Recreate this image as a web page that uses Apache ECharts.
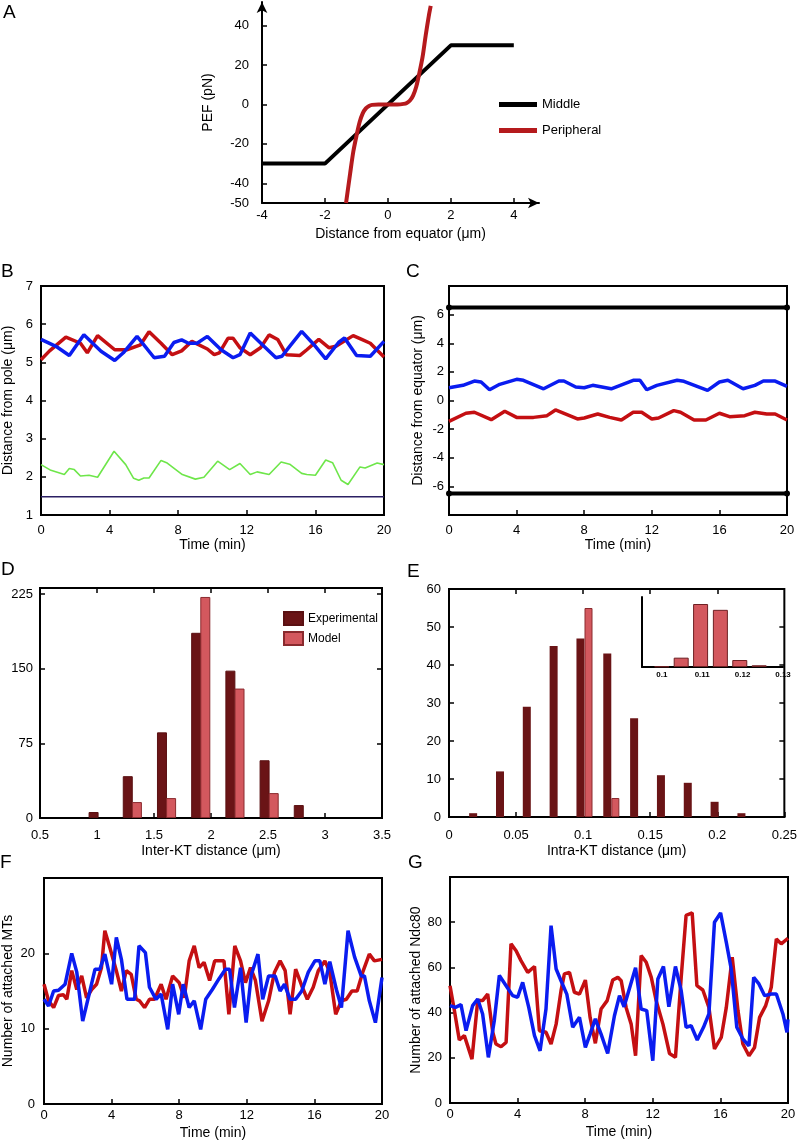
<!DOCTYPE html>
<html>
<head>
<meta charset="utf-8">
<script src="https://cdn.jsdelivr.net/npm/echarts@6/dist/echarts.min.js"></script>
<style>
  html, body { margin: 0; padding: 0; background: #fff; }
  #chart { width: 800px; height: 1143px; }
</style>
</head>
<body>
<div id="chart"></div>
<script>
// ---- data ----
// A: polar ejection force
const aMiddle = [[-4, -30], [-2, -30], [2, 30], [4, 30]];
const aPeripheral = [[-1.33, -50], [-1.2, -35], [-1.1, -24], [-1.0, -16], [-0.9, -9], [-0.8, -4.5], [-0.7, -2],
  [-0.6, -0.8], [-0.5, -0.2], [-0.3, 0], [0, 0], [0.3, 0], [0.5, 0.3], [0.6, 0.8], [0.7, 2], [0.8, 4.5],
  [0.9, 9], [1.0, 16], [1.1, 24], [1.2, 35], [1.3, 45], [1.36, 50]];
const aTicksX = [-4, -2, 0, 2, 4];
const aTicksY = [-50, -40, -20, 0, 20, 40];

// B: distance from pole
const bRed = [[0, 5.07], [0.5, 5.3], [1.45, 5.66], [2.3, 5.5], [2.7, 5.25], [3.3, 5.7], [4.3, 5.33], [5, 5.33],
  [5.8, 5.46], [6.3, 5.8], [7, 5.5], [7.65, 5.2], [8.2, 5.3], [8.8, 5.55], [9.7, 5.35], [10.1, 5.2], [10.4, 5.25],
  [10.9, 5.63], [11.2, 5.63], [11.6, 5.38], [12.2, 5.2], [12.8, 5.38], [13.3, 5.72], [13.8, 5.6], [14.3, 5.2],
  [15.1, 5.18], [15.5, 5.33], [16.2, 5.6], [16.8, 5.38], [17.2, 5.42], [18.2, 5.7], [18.7, 5.6], [19.2, 5.5], [20, 5.14]];
const bBlue = [[0, 5.6], [0.87, 5.42], [1.65, 5.18], [2.5, 5.72], [3.5, 5.29], [4.3, 5.05], [4.8, 5.25], [5.6, 5.68],
  [6.6, 5.12], [7.2, 5.16], [7.75, 5.52], [8.2, 5.59], [8.6, 5.5], [9.1, 5.5], [9.7, 5.68], [10.5, 5.33], [11.2, 5.12],
  [11.6, 5.2], [12.2, 5.77], [13, 5.42], [13.7, 5.12], [14.05, 5.16], [14.5, 5.42], [15.2, 5.81], [16, 5.42],
  [16.6, 5.09], [17.35, 5.52], [17.7, 5.64], [18.4, 5.18], [19.2, 5.16], [20, 5.55]];
const bGreen = [[0, 2.32], [0.58, 2.17], [1.36, 2.06], [1.65, 2.22], [1.94, 2.19], [2.3, 2.02], [2.8, 2.04], [3.3, 1.99],
  [4.26, 2.67], [4.94, 2.32], [5.4, 1.96], [5.7, 1.91], [6, 1.97], [6.3, 1.97], [7, 2.43], [7.36, 2.36], [8.24, 2.06],
  [9, 1.94], [9.5, 1.99], [10.3, 2.41], [11, 2.19], [11.6, 2.35], [12.2, 2.06], [12.6, 2.13], [13.3, 2.06], [14, 2.39],
  [14.5, 2.33], [15.2, 2.09], [15.5, 2.06], [16, 2.04], [16.6, 2.44], [17, 2.37], [17.5, 1.91], [17.9, 1.8],
  [18.6, 2.26], [18.9, 2.23], [19.6, 2.36], [20, 2.32]];
const bPole = [[0, 1.48], [20, 1.48]];
const timeTicks = [0, 4, 8, 12, 16, 20];
const bTicksY = [1, 2, 3, 4, 5, 6, 7];

// C: distance from equator
const cBlue = [[0, 0.89], [0.83, 1.06], [1.5, 1.36], [1.9, 1.29], [2.4, 0.75], [3, 1.13], [4, 1.48], [4.4, 1.41],
  [5.6, 0.82], [6.5, 1.36], [6.8, 1.36], [7.5, 0.94], [8, 0.89], [8.5, 1.06], [9.6, 0.82], [10.9, 1.41], [11.3, 1.41],
  [11.7, 0.75], [12.3, 1.06], [13.5, 1.41], [13.9, 1.34], [15.3, 0.71], [16, 1.29], [16.5, 1.41], [17.4, 0.82],
  [18.1, 1.06], [18.6, 1.36], [19.3, 1.36], [20, 0.99]];
const cRed = [[0, -1.46], [1, -0.89], [1.5, -0.82], [2.5, -1.34], [3.3, -0.75], [4, -1.18], [5, -1.18], [5.8, -1.06],
  [6.3, -0.66], [7.6, -1.29], [8, -1.22], [8.8, -0.94], [9.5, -1.18], [10.2, -1.36], [10.9, -0.82], [11.4, -0.82],
  [12, -1.29], [12.4, -1.22], [13.3, -0.71], [13.7, -0.82], [14.5, -1.36], [15.2, -1.36], [16, -0.89], [16.6, -1.13],
  [17.5, -1.06], [18.1, -0.82], [18.8, -0.94], [19.3, -0.94], [20, -1.36]];
const cPoleTop = [[0, 6.5], [20, 6.5]];
const cPoleBottom = [[0, -6.5], [20, -6.5]];
const cTicksY = [-6, -4, -2, 0, 2, 4, 6];

// D: inter-KT distance histogram
const dExpX = [0.97, 1.27, 1.57, 1.87, 2.17, 2.47, 2.77];
const dExp = [6, 42, 86, 186, 148, 58, 13];
const dModelX = [1.35, 1.65, 1.95, 2.25, 2.55];
const dModel = [16, 20, 222, 130, 25];
const dTicksX = [0.5, 1, 1.5, 2, 2.5, 3, 3.5];
const dTicksY = [0, 75, 150, 225];

// E: intra-KT distance histogram + inset
const eExpX = [0.018, 0.038, 0.058, 0.078, 0.098, 0.118, 0.138, 0.158, 0.178, 0.198, 0.218];
const eExp = [1, 12, 29, 45, 47, 43, 26, 11, 9, 4, 1];
const eModelX = [0.104, 0.124];
const eModel = [55, 5];
const eTicksX = [0, 0.05, 0.1, 0.15, 0.2, 0.25];
const eTicksY = [0, 10, 20, 30, 40, 50, 60];
const insetX = [0.1, 0.1048, 0.1096, 0.1145, 0.1193, 0.1241];
const insetY = [0.5, 8, 54, 49, 6, 1.5];
const insetTicksX = [0.1, 0.11, 0.12, 0.13];

// F: attached MTs
const fRed = [[0, 15.9], [0.27, 13.7], [0.57, 12.8], [0.86, 14.4], [1.15, 14.5], [1.35, 13.9], [1.64, 17.7], [1.94, 15.2],
  [2.23, 17.0], [2.52, 14.1], [2.82, 15.2], [3.11, 15.9], [3.4, 18.1], [3.6, 23.0], [3.89, 20.8], [4.28, 17.7],
  [4.58, 15.0], [4.87, 17.7], [5.16, 17.2], [5.46, 13.9], [5.65, 13.7], [5.95, 12.8], [6.24, 13.9], [6.54, 13.9],
  [6.93, 15.9], [7.22, 13.9], [7.61, 17.0], [8.0, 16.1], [8.3, 14.1], [8.59, 19.0], [8.89, 21.0], [9.18, 18.1],
  [9.47, 18.8], [9.8, 16.4], [10.1, 19.0], [10.65, 19.0], [10.94, 11.9], [11.29, 21.0], [11.63, 19.0], [11.92, 16.1],
  [12.22, 18.1], [12.51, 16.4], [12.9, 11.0], [13.29, 13.7], [13.64, 17.5], [13.97, 19.0], [14.27, 17.7],
  [14.56, 11.9], [14.89, 17.9], [15.25, 15.7], [15.58, 13.9], [15.93, 15.5], [16.23, 17.7], [16.62, 19.0],
  [16.91, 17.5], [17.26, 11.9], [17.6, 13.7], [17.89, 13.9], [18.22, 15.0], [18.53, 15.0], [18.86, 17.5],
  [19.25, 19.9], [19.55, 19.0], [20, 19.2]];
const fBlue = [[0, 13.9], [0.27, 13.0], [0.57, 15.0], [0.86, 15.1], [1.25, 15.9], [1.64, 20.0], [1.94, 17.5], [2.29, 11.0],
  [2.62, 14.1], [3.02, 17.9], [3.31, 17.9], [3.6, 19.9], [4.0, 15.9], [4.28, 22.1], [4.58, 19.2], [4.91, 13.9],
  [5.36, 13.9], [5.62, 21.0], [6.0, 20.1], [6.24, 15.5], [6.63, 13.9], [6.93, 14.6], [7.32, 9.9], [7.61, 15.9],
  [7.97, 11.9], [8.24, 15.9], [8.59, 12.8], [8.89, 13.7], [9.27, 9.9], [9.57, 13.9], [9.96, 15.2], [10.35, 16.6],
  [10.74, 17.9], [10.98, 17.9], [11.27, 12.8], [11.63, 18.1], [11.96, 10.8], [12.27, 17.2], [12.66, 19.9],
  [12.94, 13.9], [13.29, 17.0], [13.68, 17.0], [13.97, 15.0], [14.23, 15.9], [14.56, 13.9], [14.89, 13.9],
  [15.25, 15.0], [15.64, 17.5], [16.03, 19.0], [16.32, 19.0], [16.62, 15.9], [16.91, 18.9], [17.3, 15.2],
  [17.6, 12.8], [17.99, 23.0], [18.38, 19.5], [18.77, 17.0], [18.96, 17.0], [19.25, 13.7], [19.61, 10.8], [20, 16.8]];
const fTicksY = [0, 10, 20];

// G: attached Ndc80
const gRed = [[0, 51.9], [0.26, 40.9], [0.55, 27.9], [0.85, 29.8], [1.3, 19.4], [1.64, 45.3], [1.93, 45.3], [2.23, 48.2],
  [2.53, 31.3], [2.72, 26.1], [3.02, 24.9], [3.32, 26.8], [3.61, 70.4], [3.91, 67.4], [4.2, 63.0], [4.6, 57.8],
  [5.0, 60.4], [5.29, 32.0], [5.68, 31.3], [5.98, 26.1], [6.28, 34.9], [6.57, 49.7], [6.77, 57.1], [7.07, 57.8],
  [7.36, 49.0], [7.66, 48.2], [8.01, 54.4], [8.29, 37.9], [8.6, 26.4], [8.94, 41.6], [9.3, 45.3], [9.63, 54.4],
  [9.93, 55.6], [10.13, 54.1], [10.42, 42.3], [10.72, 34.9], [10.98, 20.9], [11.31, 65.2], [11.61, 62.3],
  [11.91, 55.6], [12.2, 45.3], [12.6, 34.9], [12.99, 21.9], [13.34, 20.2], [13.68, 55.6], [13.97, 83.0],
  [14.33, 84.1], [14.61, 51.9], [14.96, 50.0], [15.32, 42.3], [15.65, 23.9], [16.05, 29.0], [16.35, 42.3],
  [16.7, 64.5], [17.04, 40.9], [17.33, 26.1], [17.69, 20.9], [18.02, 24.6], [18.32, 37.9], [18.68, 43.1],
  [19.01, 51.2], [19.31, 72.6], [19.6, 70.4], [20, 72.9]];
const gBlue = [[0, 43.1], [0.32, 42.3], [0.65, 43.5], [0.95, 32.0], [1.34, 43.1], [1.64, 46.0], [1.93, 39.4], [2.27, 20.2],
  [2.62, 36.4], [2.92, 56.4], [3.32, 51.9], [3.71, 47.5], [4.0, 46.8], [4.3, 53.4], [4.66, 42.3], [5.0, 29.8],
  [5.33, 23.1], [5.68, 41.6], [5.98, 78.5], [6.28, 59.3], [6.57, 54.1], [6.91, 48.2], [7.26, 33.5], [7.66, 37.9],
  [8.01, 24.6], [8.29, 30.5], [8.6, 37.2], [8.94, 30.5], [9.33, 21.9], [9.73, 38.6], [10.03, 47.5], [10.3, 42.6],
  [10.98, 59.8], [11.31, 41.6], [11.64, 40.9], [12.0, 18.7], [12.3, 54.9], [12.63, 60.4], [12.95, 42.6],
  [13.34, 60.4], [13.68, 49.7], [13.97, 33.5], [14.27, 34.2], [14.63, 27.9], [15.0, 33.5], [15.32, 39.4],
  [15.65, 80.0], [16.01, 84.1], [16.35, 71.1], [16.64, 59.3], [16.97, 33.5], [17.33, 28.3], [17.69, 25.3],
  [17.97, 55.6], [18.28, 52.7], [18.62, 47.5], [19.01, 48.2], [19.31, 48.2], [19.7, 39.4], [19.94, 31.3], [20, 37]];
const gTicksY = [0, 20, 40, 60, 80];

// ---- styling helpers ----
const FONT = '"Liberation Sans", Arial, sans-serif';
const RED = '#c40f12';
const BLUE = '#0a1cf0';
const DARK = '#6a1416';
const PINK = '#d3585e';

function axis(o) {
  return {
    type: 'value',
    gridIndex: o.grid,
    min: o.min,
    max: o.max,
    position: o.position,
    name: o.name,
    nameLocation: 'middle',
    nameGap: o.nameGap,
    nameTextStyle: { color: '#000', fontSize: 14, fontFamily: FONT },
    axisLine: {
      show: o.line !== false, onZero: false,
      symbol: o.arrow ? ['none', 'arrow'] : 'none', symbolSize: [8, 11],
      lineStyle: { color: '#000', width: 2 }
    },
    axisTick: {
      show: o.ticks !== false, inside: true, length: 5, customValues: o.tickValues || o.labels,
      lineStyle: { color: '#000', width: 1.5 }
    },
    axisLabel: {
      show: !!o.labels, customValues: o.labels, color: '#000',
      fontSize: o.fontSize || 13, fontWeight: o.bold ? 'bold' : 'normal',
      fontFamily: FONT, margin: o.margin == null ? 8 : o.margin
    },
    splitLine: { show: false }
  };
}

function line(name, idx, data, color, width) {
  return {
    type: 'line', name: name, xAxisIndex: idx, yAxisIndex: idx, data: data,
    showSymbol: false, lineStyle: { color: color, width: width }, itemStyle: { color: color }
  };
}

function bars(name, idx, xs, ys, color, width, border) {
  return {
    type: 'bar', name: name, xAxisIndex: idx, yAxisIndex: idx,
    data: xs.map((x, i) => [x, ys[i]]), barWidth: width, barGap: '-100%',
    itemStyle: { color: color, borderColor: border || color, borderWidth: border ? 1 : 0 }
  };
}

const frame = { show: true, borderColor: '#000', borderWidth: 2, backgroundColor: 'transparent' };

const option = {
  animation: false,
  backgroundColor: '#fff',
  textStyle: { fontFamily: FONT },
  grid: [
    { left: 262, top: 2, width: 277, height: 201 },                    // A
    Object.assign({ left: 40, top: 286, width: 344, height: 229 }, frame),  // B
    Object.assign({ left: 449, top: 286, width: 338, height: 229 }, frame), // C
    Object.assign({ left: 40, top: 588, width: 342, height: 230 }, frame),  // D
    Object.assign({ left: 449, top: 589, width: 339, height: 228 }, frame), // E
    { left: 642, top: 597, width: 141, height: 70 },                   // E inset
    Object.assign({ left: 42, top: 878, width: 340, height: 226 }, frame),  // F
    Object.assign({ left: 450, top: 877, width: 338, height: 226 }, frame)  // G
  ],
  xAxis: [
    axis({ grid: 0, min: -4, max: 4.8, labels: aTicksX, arrow: true, margin: 6, name: 'Distance from equator (\u03bcm)', nameGap: 24 }),
    axis({ grid: 1, min: 0, max: 20, labels: timeTicks, margin: 9, name: 'Time (min)', nameGap: 23 }),
    axis({ grid: 2, min: 0, max: 20, labels: timeTicks, margin: 9, name: 'Time (min)', nameGap: 23 }),
    axis({ grid: 3, min: 0.5, max: 3.5, labels: dTicksX, margin: 11, name: 'Inter-KT distance (\u03bcm)', nameGap: 26 }),
    axis({ grid: 4, min: 0, max: 0.25, labels: eTicksX, margin: 12, name: 'Intra-KT distance (\u03bcm)', nameGap: 27 }),
    axis({ grid: 5, min: 0.0951, max: 0.13, labels: insetTicksX, ticks: false, fontSize: 8, bold: true, margin: 4 }),
    axis({ grid: 6, min: 0, max: 20, labels: timeTicks, margin: 5, name: 'Time (min)', nameGap: 22 }),
    axis({ grid: 7, min: 0, max: 20, labels: timeTicks, margin: 5, name: 'Time (min)', nameGap: 22 }),
    axis({ grid: 3, min: 0.5, max: 3.5, position: 'top', line: false, tickValues: [1, 1.5, 2, 2.5, 3] }),
    axis({ grid: 4, min: 0, max: 0.25, position: 'top', line: false, tickValues: [0.05, 0.1, 0.15, 0.2] })
  ],
  yAxis: [
    axis({ grid: 0, min: -50, max: 52, labels: aTicksY, arrow: true, margin: 13, name: 'PEF (pN)', nameGap: 47 }),
    axis({ grid: 1, min: 1, max: 7, labels: bTicksY, margin: 8, name: 'Distance from pole (\u03bcm)', nameGap: 26 }),
    axis({ grid: 2, min: -8, max: 8, labels: cTicksY, margin: 5, name: 'Distance from equator (\u03bcm)', nameGap: 24 }),
    axis({ grid: 3, min: 0, max: 231, labels: dTicksY, margin: 7 }),
    axis({ grid: 4, min: 0, max: 60, labels: eTicksY, margin: 8 }),
    axis({ grid: 5, min: 0, max: 60, ticks: false }),
    axis({ grid: 6, min: 0, max: 30, labels: fTicksY, margin: 9, name: 'Number of attached MTs', nameGap: 29 }),
    axis({ grid: 7, min: 0, max: 100, labels: gTicksY, margin: 8, name: 'Number of attached Ndc80', nameGap: 27 }),
    axis({ grid: 3, min: 0, max: 231, position: 'right', line: false, tickValues: [75, 150, 225] }),
    axis({ grid: 4, min: 0, max: 60, position: 'right', line: false, tickValues: [10, 20, 30, 40, 50] })
  ],
  legend: [
    {
      data: ['Middle', 'Peripheral'], orient: 'vertical', left: 494, top: 93,
      icon: 'rect', itemWidth: 38, itemHeight: 5, itemGap: 13,
      textStyle: { color: '#000', fontSize: 13, fontFamily: FONT }
    },
    {
      data: ['Experimental', 'Model'], orient: 'vertical', left: 278, top: 606,
      icon: 'rect', itemWidth: 19, itemHeight: 13, itemGap: 5,
      textStyle: { color: '#000', fontSize: 12, fontFamily: FONT }
    }
  ],
  graphic: [
    ['A', 3, 3], ['B', 1, 262], ['C', 406, 262], ['D', 1, 560], ['E', 407, 562], ['F', 0, 853], ['G', 408, 853]
  ].map(p => ({
    type: 'text', left: p[1], top: p[2],
    style: { text: p[0], fontSize: 19, fontFamily: FONT, fill: '#000' }
  })),
  series: [
    // A
    line('Middle', 0, aMiddle, '#000', 4),
    Object.assign(line('Peripheral', 0, aPeripheral, '#b51a1d', 4), { smooth: 0.3 }),
    // B
    line('B red', 1, bRed, RED, 3.5),
    line('B blue', 1, bBlue, BLUE, 3.5),
    line('B green', 1, bGreen, '#6ee64a', 1.6),
    line('B pole', 1, bPole, '#2b1f63', 1.6),
    // C
    Object.assign(line('C top', 2, cPoleTop, '#000', 4), { showSymbol: true, symbol: 'circle', symbolSize: 6 }),
    Object.assign(line('C bottom', 2, cPoleBottom, '#000', 4), { showSymbol: true, symbol: 'circle', symbolSize: 6 }),
    line('C blue', 2, cBlue, BLUE, 3.5),
    line('C red', 2, cRed, RED, 3.5),
    // D
    bars('Experimental', 3, dExpX, dExp, DARK, 10, '#5a1012'),
    bars('Model', 3, dModelX, dModel, PINK, 10, '#8a2a2e'),
    // E
    bars('E exp', 4, eExpX, eExp, DARK, 8),
    bars('E model', 4, eModelX, eModel, PINK, 8, '#8a2a2e'),
    bars('E inset', 5, insetX, insetY, PINK, 15, '#6e2023'),
    // F
    line('F red', 6, fRed, RED, 3.5),
    line('F blue', 6, fBlue, BLUE, 3.5),
    // G
    line('G red', 7, gRed, RED, 3.5),
    line('G blue', 7, gBlue, BLUE, 3.5)
  ]
};

const chart = echarts.init(document.getElementById('chart'), null, { renderer: 'canvas' });
chart.setOption(option);
</script>
</body>
</html>
